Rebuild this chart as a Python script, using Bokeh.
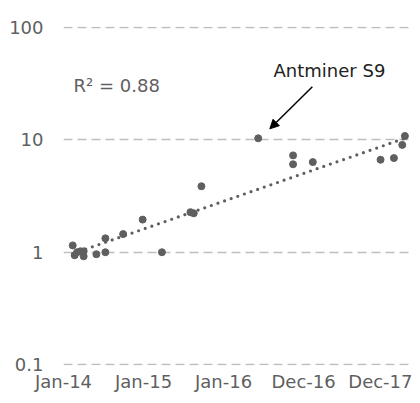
import pandas as pd
from bokeh.plotting import figure
from bokeh.models import (ColumnDataSource, Range1d, FixedTicker, CustomJSTickFormatter,
                          Label, Arrow, NormalHead)
from bokeh.embed import file_html
from bokeh.resources import INLINE

# ---- data ----
dates = ["2014-02-12", "2014-02-21", "2014-03-04", "2014-03-19", "2014-04-03", "2014-04-03",
         "2014-05-31", "2014-07-11", "2014-07-11", "2014-09-30", "2014-12-28", "2015-03-26",
         "2015-08-03", "2015-08-18", "2015-09-22", "2016-06-07", "2016-11-13", "2016-11-13",
         "2017-02-11", "2017-12-17", "2018-02-16", "2018-03-26", "2018-04-07"]
values = [1.15, 0.94, 1.0, 1.02, 0.92, 1.02,
          0.96, 1.33, 1.0, 1.45, 1.95, 1.0,
          2.27, 2.22, 3.86, 10.3, 7.26, 6.05,
          6.33, 6.64, 6.87, 9.0, 10.8]
trend_dates = ["2014-02-11", "2018-04-06"]
trend_values = [0.97, 10.3]
tick_dates = ["2014-01-01", "2015-01-01", "2016-01-01", "2016-12-31", "2017-12-31"]
tick_labels = ["Jan-14", "Jan-15", "Jan-16", "Dec-16", "Dec-17"]
y_ticks = [0.1, 1, 10, 100]
r2_text = "R\u00b2 = 0.88"
callout_text = "Antminer S9"

def ms(d):
    return pd.Timestamp(d).value / 1e6

src = ColumnDataSource(dict(x=[ms(d) for d in dates], y=values))
tsrc = ColumnDataSource(dict(x=[ms(d) for d in trend_dates], y=trend_values))

FONT = "DejaVu Sans"
GRAY = "#5f5f5f"
FS = "18px"

p = figure(width=412, height=395, y_axis_type="log",
           output_backend="svg", toolbar_location=None,
           x_range=Range1d(ms("2014-01-01"), ms("2018-04-28")),
           y_range=Range1d(0.0985, 101.5),
           min_border_left=63, min_border_right=3, min_border_top=26, min_border_bottom=30)
p.outline_line_color = None
p.background_fill_color = "white"
p.border_fill_color = "white"

# axes
p.xaxis.ticker = FixedTicker(ticks=[ms(d) for d in tick_dates])
p.xaxis.major_label_overrides = {ms(d): lab for d, lab in zip(tick_dates, tick_labels)}
p.yaxis.ticker = FixedTicker(ticks=y_ticks)
p.yaxis.formatter = CustomJSTickFormatter(code="return tick.toString();")
for ax in (p.xaxis, p.yaxis):
    ax.axis_line_color = None
    ax.major_tick_line_color = None
    ax.minor_tick_line_color = None
    ax.major_tick_out = 0
    ax.major_tick_in = 0
    ax.minor_tick_out = 0
    ax.major_label_text_font = FONT
    ax.major_label_text_font_size = FS
    ax.major_label_text_color = GRAY
p.yaxis.major_label_standoff = 20
p.xaxis.major_label_standoff = 5

p.xgrid.grid_line_color = None
p.ygrid.ticker = FixedTicker(ticks=y_ticks)
p.ygrid.grid_line_color = "#BFBFBF"
p.ygrid.grid_line_dash = "9 5"
p.ygrid.grid_line_width = 1.5
p.ygrid.minor_grid_line_color = None

# trend (dotted)
p.line("x", "y", source=tsrc, line_color=GRAY, line_width=3.2, line_dash="0 7", line_cap="round")
# points
p.scatter("x", "y", source=src, size=7, fill_color=GRAY, line_color=GRAY)

# annotations
p.add_layout(Label(x=ms("2014-02-16"), y=30.2, text=r2_text, text_font=FONT, text_font_size=FS,
                   text_color=GRAY, text_baseline="middle", text_align="left"))
p.add_layout(Label(x=ms("2016-08-16"), y=41.0, text=callout_text, text_font=FONT, text_font_size=FS,
                   text_color="#222222", text_baseline="middle", text_align="left"))
p.add_layout(Arrow(x_start=ms("2017-02-09"), y_start=29.6, x_end=ms("2016-07-30"), y_end=12.5,
                   line_color="black", line_width=1.5,
                   end=NormalHead(size=9, fill_color="black", line_color="black")))

open("out.html", "w").write(file_html(p, INLINE))
